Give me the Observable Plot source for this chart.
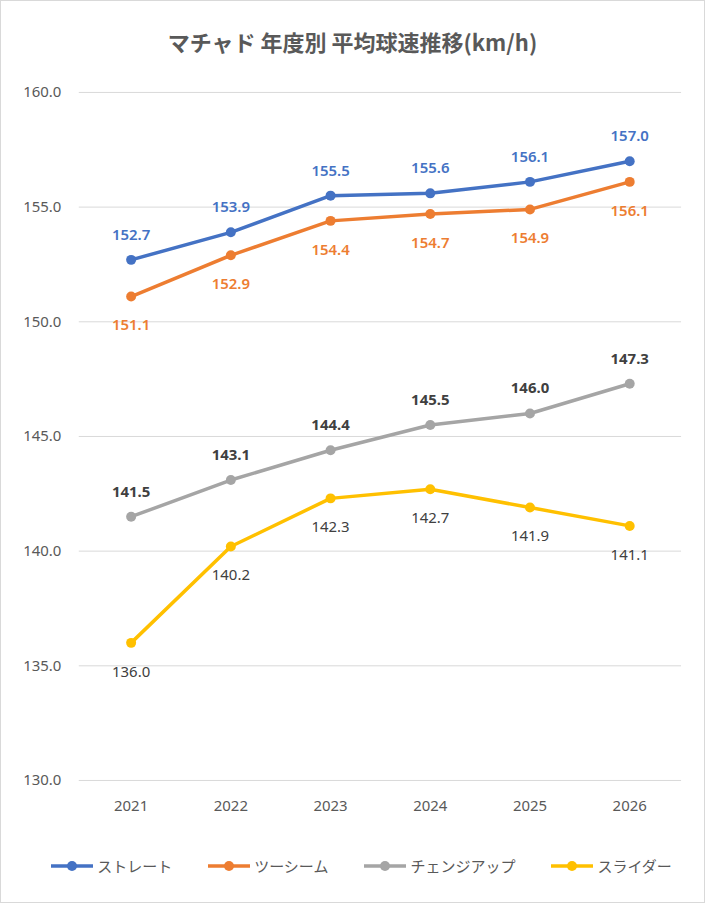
<!DOCTYPE html>
<html><head><meta charset="utf-8">
<script src="https://cdn.jsdelivr.net/npm/d3@7"></script>
<script src="https://cdn.jsdelivr.net/npm/@observablehq/plot@0.6"></script>
<style>
body{margin:0;font-family:"Noto Sans CJK JP","Noto Sans",sans-serif;}
#wrap{width:705px;height:903px;box-sizing:border-box;border:1px solid #d9d9d9;position:relative;background:#fff;}
#title{position:absolute;top:24px;left:0;width:100%;text-align:center;font-size:22px;font-weight:bold;color:#595959;}
#chart{position:absolute;top:70px;left:0;}
#legend{position:absolute;top:854px;left:8px;width:100%;display:flex;justify-content:center;gap:34px;font-size:15px;color:#595959;}
.li{display:flex;align-items:center;gap:2px;}
</style></head><body>
<div id="wrap"><div id="title">マチャド 年度別 平均球速推移(km/h)</div><div id="chart"></div><div id="legend"></div></div>
<script>
const years=["2021","2022","2023","2024","2025","2026"];
const seriesNames=["ストレート","ツーシーム","チェンジアップ","スライダー"];
const straight=[152.7,153.9,155.5,155.6,156.1,157.0];
const twoSeam=[151.1,152.9,154.4,154.7,154.9,156.1];
const changeup=[141.5,143.1,144.4,145.5,146.0,147.3];
const slider=[136.0,140.2,142.3,142.7,141.9,141.1];
const yTicks=[130,135,140,145,150,155,160];
const colors=["#4472C4","#ED7D31","#A5A5A5","#FFC000"];
const labelColors=["#4472C4","#ED7D31","#404040","#404040"];
const labelWeights=["600","600","bold","normal"];
const labelDy=[-25,29,-25,29];
const all=[straight,twoSeam,changeup,slider];
const data=[];
all.forEach((arr,i)=>arr.forEach((v,j)=>data.push({s:i,year:years[j],v})));
const marks=[Plot.gridY(yTicks,{stroke:"#d9d9d9",strokeOpacity:1})];
all.forEach((arr,i)=>{
  const d=data.filter(e=>e.s===i);
  marks.push(Plot.line(d,{x:"year",y:"v",stroke:colors[i],strokeWidth:3.5}));
  marks.push(Plot.dot(d,{x:"year",y:"v",fill:colors[i],r:5}));
  marks.push(Plot.text(d,{x:"year",y:"v",text:e=>e.v.toFixed(1),dy:labelDy[i],fill:labelColors[i],fontWeight:labelWeights[i],fontSize:15}));
});
marks.push(Plot.axisY(yTicks,{tickFormat:d=>d.toFixed(1),tickSize:0,tickPadding:18,fontSize:15,color:"#595959"}));
marks.push(Plot.axisX({tickSize:0,tickPadding:20,fontSize:15,color:"#595959"}));
const p=Plot.plot({width:705,height:760,marginLeft:78,marginRight:23,marginTop:21,marginBottom:49,
  x:{type:"point",domain:years,padding:0.5,label:null},
  y:{domain:[130,160],label:null},
  style:{fontFamily:"'Noto Sans',sans-serif",color:"#595959",background:"transparent"},
  marks});
document.getElementById("chart").appendChild(p);
const lg=document.getElementById("legend");
seriesNames.forEach((n,i)=>{
  lg.insertAdjacentHTML("beforeend",`<div class="li"><svg width="46" height="14"><line x1="2" x2="44" y1="7" y2="7" stroke="${colors[i]}" stroke-width="3.5"/><circle cx="23" cy="7" r="5" fill="${colors[i]}"/></svg><span>${n}</span></div>`);
});
</script></body></html>
